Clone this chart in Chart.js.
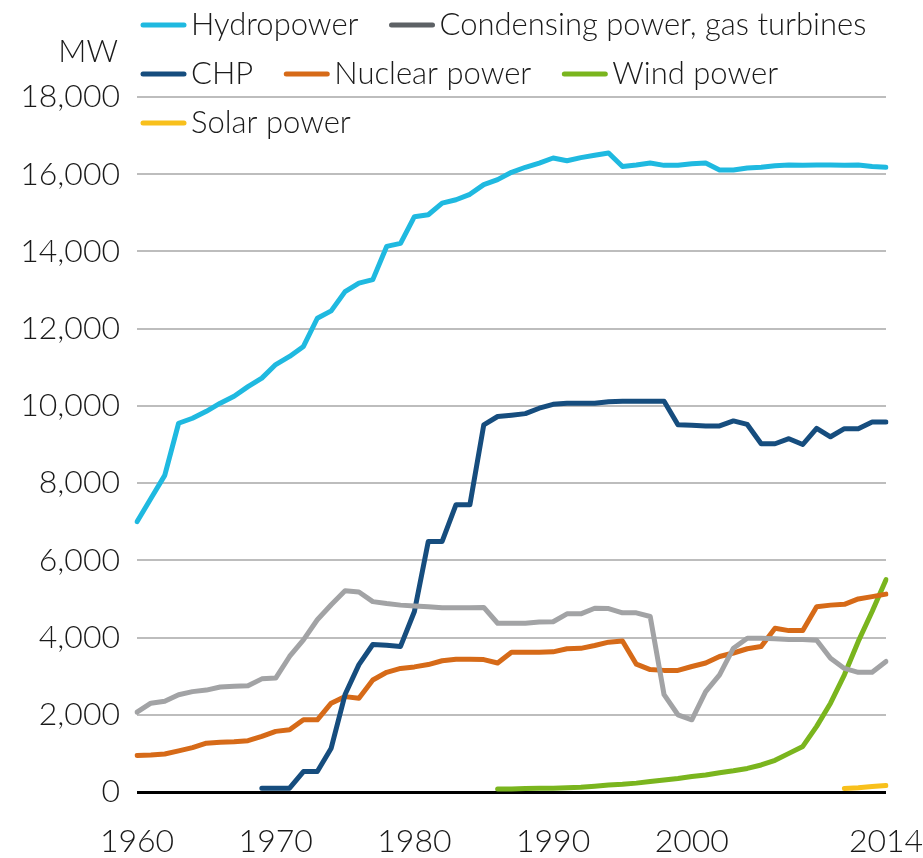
<!DOCTYPE html>
<html>
<head>
<meta charset="utf-8">
<title>Installed capacity</title>
<script src="https://cdn.jsdelivr.net/npm/chart.js@4.4.1/dist/chart.umd.min.js"></script>
<style>
  body { margin: 0; background: #fff; }
</style>
</head>
<body>
<canvas id="capacityChart" width="923" height="858"></canvas>
<script>
// *****Data***** //
const years = [1960, 1961, 1962, 1963, 1964, 1965, 1966, 1967, 1968, 1969,
    1970, 1971, 1972, 1973, 1974, 1975, 1976, 1977, 1978, 1979,
    1980, 1981, 1982, 1983, 1984, 1985, 1986, 1987, 1988, 1989,
    1990, 1991, 1992, 1993, 1994, 1995, 1996, 1997, 1998, 1999,
    2000, 2001, 2002, 2003, 2004, 2005, 2006, 2007, 2008, 2009,
    2010, 2011, 2012, 2013, 2014];
const shownYears = [1960, 1970, 1980, 1990, 2000, 2014];
const yTicks = [0, 2000, 4000, 6000, 8000, 10000, 12000, 14000, 16000, 18000];

const hydropower = [7000, 7600, 8200, 9550, 9680, 9860, 10070, 10250, 10500, 10720,
    11070, 11280, 11540, 12270, 12460, 12960, 13180, 13270, 14130, 14210,
    14900, 14950, 15250, 15340, 15480, 15730, 15860, 16050, 16180, 16290,
    16420, 16350, 16430, 16490, 16550, 16200, 16240, 16290, 16230, 16230,
    16270, 16290, 16110, 16110, 16160, 16180, 16220, 16240, 16230, 16240,
    16240, 16230, 16240, 16200, 16180];
const condensing = [2070, 2300, 2350, 2520, 2600, 2640, 2720, 2740, 2750, 2930,
    2950, 3510, 3940, 4460, 4850, 5210, 5180, 4930, 4880, 4840,
    4820, 4800, 4770, 4770, 4770, 4780, 4370, 4370, 4370, 4400,
    4410, 4615, 4615, 4760, 4750, 4640, 4640, 4545, 2520, 2000,
    1870, 2600, 3035, 3725, 3980, 3980, 3970, 3950, 3950, 3930,
    3465, 3200, 3100, 3100, 3380];
const chp = [null, null, null, null, null, null, null, null, null, 100,
    100, 100, 530, 530, 1135, 2525, 3300, 3820, 3800, 3770,
    4675, 6490, 6490, 7440, 7440, 9510, 9725, 9760, 9800, 9940,
    10040, 10070, 10070, 10070, 10110, 10120, 10120, 10120, 10120, 9510,
    9500, 9480, 9480, 9610, 9520, 9020, 9020, 9150, 9000, 9420,
    9200, 9410, 9410, 9580, 9580];
const nuclear = [945, 960, 985, 1065, 1150, 1265, 1290, 1300, 1330, 1440,
    1570, 1610, 1870, 1870, 2300, 2470, 2430, 2900, 3100, 3200,
    3240, 3300, 3400, 3440, 3440, 3430, 3340, 3620, 3620, 3620,
    3630, 3710, 3720, 3795, 3880, 3910, 3310, 3170, 3150, 3150,
    3250, 3340, 3510, 3600, 3710, 3770, 4240, 4180, 4180, 4800,
    4840, 4860, 5000, 5060, 5125];
const wind = [null, null, null, null, null, null, null, null, null, null,
    null, null, null, null, null, null, null, null, null, null,
    null, null, null, null, null, null, 80, 80, 90, 100,
    100, 110, 125, 150, 180, 200, 230, 270, 310, 350,
    400, 440, 500, 550, 610, 700, 820, 1000, 1180, 1700,
    2300, 3035, 3900, 4675, 5500];
const solar = [null, null, null, null, null, null, null, null, null, null,
    null, null, null, null, null, null, null, null, null, null,
    null, null, null, null, null, null, null, null, null, null,
    null, null, null, null, null, null, null, null, null, null,
    null, null, null, null, null, null, null, null, null, null,
    null, 90, 110, 140, 170];

const FONT = 'Lato';
const TEXT = '#1a1a1a';

// *****Legend + unit label drawn on top***** //
const topLegend = {
    id: 'topLegend',
    afterDraw(chart) {
        const c = chart.ctx;
        c.save();
        c.font = '300 31px ' + FONT;
        c.fillStyle = TEXT;
        c.textBaseline = 'middle';
        c.textAlign = 'left';
        let x = 140, y = 25;
        chart.data.datasets.forEach(ds => {
            const w = 51 + c.measureText(ds.label).width;
            if (x + w > 905) { x = 140; y += 49; }
            c.strokeStyle = ds.legendColor || ds.borderColor;
            c.lineWidth = 5;
            c.lineCap = 'round';
            c.beginPath();
            c.moveTo(x + 3, y);
            c.lineTo(x + 44, y);
            c.stroke();
            c.fillText(ds.label, x + 51, y);
            x += w + 30;
        });
        c.textAlign = 'right';
        c.fillText('MW', 118, 52);
        c.restore();
    }
};

// *****Capacity Chart***** //
const capacity = document.getElementById('capacityChart');
if (capacity) {
    const line = (label, data, color, extra) => Object.assign({
        label: label,
        data: data,
        borderColor: color,
        backgroundColor: color,
        borderWidth: 5,
        pointRadius: 0,
        tension: 0,
        borderCapStyle: 'round',
        borderJoinStyle: 'round',
        fill: false
    }, extra || {});

    new Chart(capacity, {
        type: 'line',
        data: {
            labels: years,
            datasets: [
                line('Hydropower', hydropower, '#1fb9e0'),
                line('Condensing power, gas turbines', condensing, '#a2a3a5', { legendColor: '#5d6165' }),
                line('CHP', chp, '#164d7e'),
                line('Nuclear power', nuclear, '#d66a18'),
                line('Wind power', wind, '#7ab51e'),
                line('Solar power', solar, '#f8c01c')
            ]
        },
        options: {
            responsive: false,
            animation: false,
            layout: { padding: { top: 97, right: 37, left: 0, bottom: 0 } },
            plugins: {
                legend: { display: false },
                tooltip: { enabled: false }
            },
            scales: {
                x: {
                    offset: false,
                    grid: { display: false, drawTicks: false },
                    border: { display: false },
                    afterFit(scale) {
                        scale.height = 66;
                        scale.paddingLeft = 0;
                        scale.paddingRight = 0;
                    },
                    ticks: {
                        autoSkip: false,
                        maxRotation: 0,
                        padding: 30,
                        color: TEXT,
                        font: { family: FONT, size: 32, weight: '300' },
                        callback(value) {
                            const yr = years[value];
                            return shownYears.includes(yr) ? String(yr) : '';
                        }
                    }
                },
                y: {
                    min: yTicks[0],
                    max: yTicks[yTicks.length - 1],
                    afterFit(scale) { scale.width = 137; },
                    afterBuildTicks(scale) { scale.ticks = yTicks.map(v => ({ value: v })); },
                    border: { display: false },
                    grid: {
                        drawTicks: false,
                        color: ctx => ctx.tick && ctx.tick.value === 0 ? '#000000' : '#bdbdbd',
                        lineWidth: ctx => ctx.tick && ctx.tick.value === 0 ? 3 : 2
                    },
                    ticks: {
                        padding: 17,
                        color: TEXT,
                        font: { family: FONT, size: 32, weight: '300' },
                        callback: value => value.toLocaleString('en-US')
                    }
                }
            }
        },
        plugins: [topLegend]
    });
}
</script>
</body>
</html>
